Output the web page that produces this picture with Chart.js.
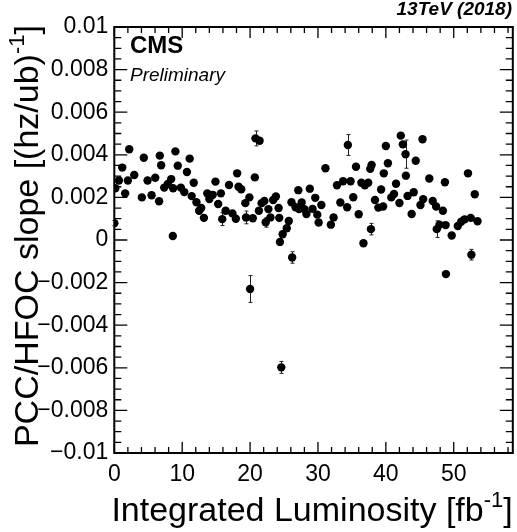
<!DOCTYPE html>
<html>
<head>
<meta charset="utf-8">
<script src="https://cdn.jsdelivr.net/npm/chart.js@4"></script>
<style>
html, body { margin: 0; padding: 0; background: #fff; }
canvas { display: block; }
</style>
</head>
<body>
<canvas id="slopeChart" width="517" height="532"></canvas>
<script>
// integrated luminosity of each fill [fb^-1]
const lumi = [
  0.0, 0.15, 0.68, 1.17, 1.6, 2.0, 2.2, 2.94, 4.06, 4.35,
  4.9, 5.49, 6.03, 6.6, 6.7, 6.9, 7.35, 7.88, 8.38, 8.62,
  8.67, 9.0, 9.35, 9.8, 10.3, 10.7, 11.1, 11.4, 11.7, 12.1,
  12.5, 12.8, 13.2, 13.7, 14.0, 14.5, 14.9, 15.3, 15.7, 15.9,
  16.4, 16.9, 17.4, 17.9, 18.1, 18.3, 18.7, 19.3, 19.4, 19.9,
  20.0, 20.4, 20.7, 20.8, 21.3, 21.4, 21.7, 22.1, 22.3, 22.7,
  23.0, 23.4, 23.8, 24.2, 24.3, 24.4, 24.6, 24.8, 25.4, 25.7,
  26.1, 26.2, 26.7, 27.1, 27.2, 27.6, 28.0, 28.3, 28.8, 29.2,
  29.6, 29.9, 30.1, 30.5, 31.1, 31.9, 32.3, 32.8, 33.3, 33.7,
  34.3, 34.4, 34.8, 35.2, 35.6, 36.0, 36.4, 36.7, 36.9, 37.4,
  37.7, 37.8, 37.9, 38.4, 38.9, 39.3, 39.6, 39.7, 40.0, 40.3,
  40.8, 41.2, 41.5, 42.0, 42.2, 42.5, 42.9, 42.95, 43.2, 43.8,
  44.1, 44.4, 45.1, 45.4, 45.5, 46.4, 46.9, 47.4, 47.5, 47.9,
  48.4, 48.7, 48.8, 48.85, 49.7, 50.6, 51.1, 51.6, 52.1, 52.5,
  52.6, 53.1, 53.5
]

// PCC/HFOC slope [(hz/ub)^-1]
const slope = [
  0.00079, 0.00243, 0.00279, 0.0034, 0.00219, 0.00279, 0.00426, 0.00305, 0.002, 0.00386,
  0.00279, 0.0021, 0.00292, 0.00182, 0.00396, 0.00351, 0.00246, 0.00263, 0.00286, 0.00019,
  0.00243, 0.00416, 0.00349, 0.00246, 0.00225, 0.00319, 0.00382, 0.00206, 0.00269, 0.00177,
  0.00137, 0.0015, 0.00104, 0.00219, 0.00192, 0.00212, 0.00274, 0.00169, 0.00219, 0.00098,
  0.00137, 0.00258, 0.00125, 0.001, 0.00313, 0.0025, 0.00238, 0.00173, 0.00106, 0.002,
  -0.0023, 0.00102, 0.00294, 0.00477, 0.00137, 0.00466, 0.00173, 0.00183, 0.00083, 0.00145,
  0.00106, 0.00188, 0.00204, 0.0015, 0.00104, -0.00009, -0.00598, 0.00027, 0.00055, 0.00089,
  0.00177, -0.00082, 0.00154, 0.00234, 0.00145, 0.00176, 0.00145, 0.00122, 0.00241, 0.00146,
  0.00198, 0.00119, 0.00082, 0.00164, 0.00337, 0.00072, 0.00106, 0.00257, 0.00176, 0.00276,
  0.00154, 0.00446, 0.00276, 0.00201, 0.00344, 0.00121, 0.00269, -0.00015, 0.00257, 0.00269,
  0.00334, 0.00051, 0.00352, 0.00188, 0.00152, 0.00237, 0.00157, 0.00313, 0.00441, 0.0036,
  0.002, 0.00216, 0.00264, 0.00174, 0.0049, 0.00449, 0.00403, 0.00302, 0.00207, 0.00122,
  0.00224, 0.00372, 0.00164, 0.00473, 0.00192, 0.00289, 0.00183, 0.00157, 0.00051, 0.00072,
  0.00137, 0.00271, 0.0007, -0.0016, 0.00021, 0.00066, 0.00086, 0.00097, 0.00313, 0.00104,
  -0.00069, 0.00215, 0.00088
]

const slopeErr = [
  0.00012, 0.00012, 0.00012, 0.00012, 0.00012, 0.00012, 0.00012, 0.00012, 0.00012, 0.00012,
  0.00012, 0.00012, 0.00012, 0.00012, 0.00012, 0.00012, 0.00012, 0.00012, 0.00012, 0.00012,
  0.00012, 0.00012, 0.00012, 0.00012, 0.00012, 0.00012, 0.00012, 0.00012, 0.00012, 0.00012,
  0.00012, 0.00012, 0.00012, 0.00012, 0.00012, 0.00012, 0.00012, 0.00012, 0.00012, 0.0003,
  0.00012, 0.00012, 0.00012, 0.00012, 0.00012, 0.00012, 0.00012, 0.00012, 0.0003, 0.00012,
  0.00063, 0.00012, 0.00012, 0.00035, 0.00012, 0.00012, 0.00012, 0.00012, 0.00023, 0.00012,
  0.00012, 0.00012, 0.00012, 0.00012, 0.00012, 0.00012, 0.00028, 0.00012, 0.00012, 0.00012,
  0.00012, 0.00027, 0.00012, 0.00012, 0.00012, 0.00012, 0.00012, 0.00012, 0.00012, 0.00012,
  0.00012, 0.00012, 0.00012, 0.00012, 0.00012, 0.00012, 0.00012, 0.00012, 0.00012, 0.00012,
  0.00012, 0.00049, 0.00012, 0.00012, 0.00012, 0.00012, 0.00012, 0.00012, 0.00012, 0.00012,
  0.00012, 0.00027, 0.00012, 0.00012, 0.00012, 0.00012, 0.00012, 0.00012, 0.00012, 0.00012,
  0.00012, 0.00012, 0.00012, 0.00012, 0.00012, 0.00012, 0.00066, 0.00012, 0.00012, 0.00012,
  0.00012, 0.00012, 0.00012, 0.00012, 0.00012, 0.00012, 0.00012, 0.00012, 0.00039, 0.00012,
  0.00012, 0.00012, 0.00012, 0.00012, 0.00012, 0.00012, 0.00012, 0.00012, 0.00012, 0.00012,
  0.00025, 0.00012, 0.00012
]

const xRange = [0, 58.7]
const yRange = [-0.01, 0.01]
const xMajor = 10, xMinor = 2
const yMajor = 0.002, yMinor = 0.0005

const FONT = '"Liberation Sans", Arial, Helvetica, sans-serif'

// text with ROOT-like superscripts: parts = [[text, isSup], ...]
function richWidth(c, parts, size) {
  let w = 0
  parts.forEach(([t, sup]) => {
    c.font = (sup ? size * 0.65 : size) + 'px ' + FONT
    w += c.measureText(t).width
  })
  return w
}
function drawRich(c, parts, x, y, size) {
  let pos = x
  parts.forEach(([t, sup]) => {
    c.font = (sup ? size * 0.65 : size) + 'px ' + FONT
    c.fillText(t, pos, sup ? y - size * 0.42 : y)
    pos += c.measureText(t).width
  })
}

const xTitle = [['Integrated Luminosity [fb', false], ['-1', true], [']', false]]
const yTitle = [['PCC/HFOC slope [(hz/ub)', false], ['-1', true], [']', false]]

const rootFrame = {
  id: 'rootFrame',
  beforeDatasetsDraw(chart) {
    const { ctx: c, scales: { x, y } } = chart
    c.save()
    c.strokeStyle = '#222'
    c.lineWidth = 1
    slope.forEach((v, i) => {
      const px = Math.round(x.getPixelForValue(lumi[i])) + 0.5
      const y1 = y.getPixelForValue(v - slopeErr[i])
      const y2 = y.getPixelForValue(v + slopeErr[i])
      c.beginPath()
      c.moveTo(px, y1); c.lineTo(px, y2)
      c.moveTo(px - 2, y1); c.lineTo(px + 2, y1)
      c.moveTo(px - 2, y2); c.lineTo(px + 2, y2)
      c.stroke()
    })
    c.restore()
  },
  afterDraw(chart) {
    const { ctx: c, chartArea: a, scales: { x, y } } = chart
    c.save()
    c.strokeStyle = '#000'
    c.lineWidth = 2
    c.strokeRect(a.left, a.top, a.right - a.left, a.bottom - a.top)

    // inward ticks on all four sides
    c.lineWidth = 1.3
    c.beginPath()
    for (let k = 0; k * xMinor <= xRange[1]; k++) {
      const px = x.getPixelForValue(k * xMinor)
      const len = (k * xMinor) % xMajor === 0 ? 11 : 6
      c.moveTo(px, a.bottom); c.lineTo(px, a.bottom - len)
      c.moveTo(px, a.top); c.lineTo(px, a.top + len)
    }
    const nY = Math.round((yRange[1] - yRange[0]) / yMinor)
    const per = Math.round(yMajor / yMinor)
    for (let k = 0; k <= nY; k++) {
      const py = y.getPixelForValue(yRange[0] + k * yMinor)
      const len = k % per === 0 ? 13 : 7
      c.moveTo(a.left, py); c.lineTo(a.left + len, py)
      c.moveTo(a.right, py); c.lineTo(a.right - len, py)
    }
    c.stroke()

    c.fillStyle = '#000'
    c.textBaseline = 'alphabetic'
    c.textAlign = 'left'

    // x title, right aligned to the frame
    const xw = richWidth(c, xTitle, 34)
    drawRich(c, xTitle, a.right - xw, 521, 34)

    // y title, rotated, ending at the frame top
    c.save()
    c.translate(38, a.top - 2)
    c.rotate(-Math.PI / 2)
    const yw = richWidth(c, yTitle, 34)
    drawRich(c, yTitle, -yw, 0, 34)
    c.restore()

    c.font = 'bold 24px ' + FONT
    c.fillText('CMS', 130, 53)
    c.font = 'italic 19px ' + FONT
    c.fillText('Preliminary', 130, 81)
    c.font = 'italic bold 19px ' + FONT
    c.textAlign = 'right'
    c.fillText('13TeV (2018)', 512, 15)
    c.restore()
  }
}

const points = lumi.map((v, i) => ({ x: v, y: slope[i] }))

new Chart(document.getElementById('slopeChart'), {
  type: 'scatter',
  data: {
    datasets: [{
      data: points,
      backgroundColor: '#000',
      borderColor: '#000',
      borderWidth: 0,
      pointRadius: 4.2,
      pointHoverRadius: 4.2
    }]
  },
  options: {
    responsive: false,
    animation: false,
    devicePixelRatio: 1,
    layout: { padding: { top: 27, right: 3, left: 0, bottom: 0 } },
    plugins: { legend: { display: false }, tooltip: { enabled: false } },
    scales: {
      x: {
        type: 'linear',
        min: xRange[0],
        max: xRange[1],
        afterFit: s => { s.height = 79 },
        grid: { display: false, drawTicks: false },
        border: { display: false },
        ticks: {
          stepSize: xMajor,
          includeBounds: false,
          autoSkip: false,
          maxRotation: 0,
          padding: 8,
          color: '#000',
          font: { family: FONT, size: 23 }
        }
      },
      y: {
        type: 'linear',
        min: yRange[0],
        max: yRange[1],
        afterFit: s => { s.width = 114.3 },
        grid: { display: false, drawTicks: false },
        border: { display: false },
        ticks: {
          stepSize: yMajor,
          autoSkip: false,
          padding: 6,
          color: '#000',
          font: { family: FONT, size: 23 },
          callback: v => String(Number(v.toFixed(4))).replace('-', '\u2212')
        }
      }
    }
  },
  plugins: [rootFrame]
})
</script>
</body>
</html>
